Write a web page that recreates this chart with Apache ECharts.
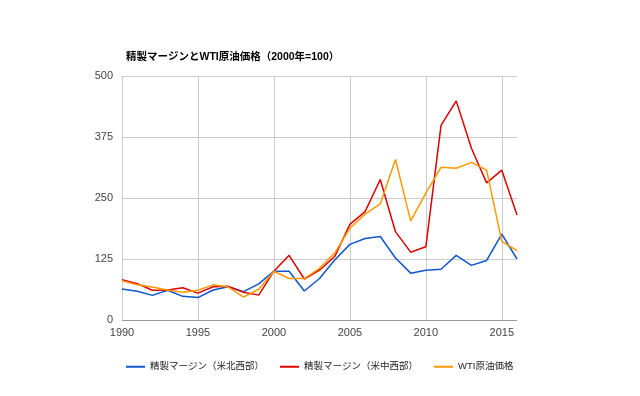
<!DOCTYPE html>
<html><head><meta charset="utf-8">
<script src="https://cdn.jsdelivr.net/npm/echarts@6/dist/echarts.min.js"></script>
<style>html,body{margin:0;padding:0;background:#fff}#c{width:640px;height:396px}</style>
</head><body><div id="c"></div>
<script>
const years = ['1990','1991','1992','1993','1994','1995','1996','1997','1998','1999','2000','2001','2002','2003','2004','2005','2006','2007','2008','2009','2010','2011','2012','2013','2014','2015','2016'];
const marginNW = [63.5,59,50.5,61,48.5,46,61.5,68,58,74,100,100,59.5,85,123,155,167,171,127,96,102,104,132.5,112,122,176,125];
const marginMW = [82.5,74.5,61,61.5,66,55,68,69,57,51,100,132.5,84,102,130,196,222,288,181,139,150,399,449,352,281,307,215];
const wti = [80.5,72,67.5,61.5,57,61,72,67.5,47,63,100,85,85,106,137,188,217,238,329,203,260,313,311,323,307,161,142];
const yTicks = [0,125,250,375,500];
const names = ['精製マージン（米北西部）','精製マージン（米中西部）','WTI原油価格'];
const colors = ['#1155cc','#dd0000','#ff9900'];
const titleText = '精製マージンとWTI原油価格（2000年=100）';

const FONT = 'Arial, "Liberation Sans", "Noto Sans CJK JP", sans-serif';
const chart = echarts.init(document.getElementById('c'), null, {renderer:'canvas'});
const mk = (name, data, color) => ({
  name, type:'line', data, symbol:'none', smooth:false,
  lineStyle:{color, width:1.5}, itemStyle:{color}
});
chart.setOption({
  animation:false,
  title:{text:titleText, left:121, top:47,
    textStyle:{fontSize:10.5, fontWeight:'bold', color:'#000', fontFamily:FONT}},
  legend:{top:357, left:121, itemGap:16, itemWidth:19, itemHeight:2, icon:'rect',
    textStyle:{fontSize:9.5, color:'#222', fontFamily:FONT},
    data:names},
  grid:{left:122, right:123, top:76, bottom:76, containLabel:false},
  xAxis:{type:'category', data:years, boundaryGap:false,
    axisLine:{show:false}, axisTick:{show:false},
    axisLabel:{interval:4, color:'#444', fontSize:11, fontFamily:FONT, margin:7},
    splitLine:{show:true, interval:4, lineStyle:{color:'#cccccc', width:1}}},
  yAxis:{type:'value', min:yTicks[0], max:yTicks[yTicks.length-1], interval:125,
    axisLine:{show:false}, axisTick:{show:false},
    axisLabel:{color:'#444', fontSize:11, fontFamily:FONT, margin:9},
    splitLine:{show:true, lineStyle:{color:'#cccccc', width:1}}},
  series:[
    mk(names[0], marginNW, colors[0]),
    mk(names[1], marginMW, colors[1]),
    mk(names[2], wti, colors[2]),
    {type:'line', data:[], markLine:{silent:true, symbol:'none', label:{show:false},
      lineStyle:{color:'#999', width:1, type:'solid'}, data:[{yAxis:0}]}}
  ]
});
</script></body></html>
